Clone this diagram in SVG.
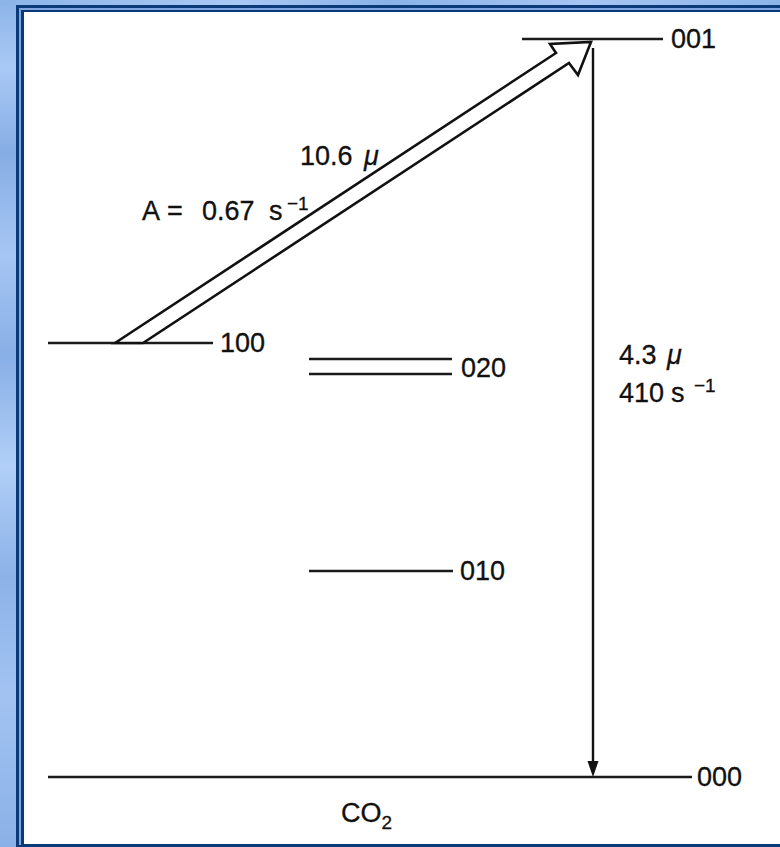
<svg xmlns="http://www.w3.org/2000/svg" width="780" height="847" viewBox="0 0 780 847">
  <defs>
    <linearGradient id="bgV" x1="0" y1="0" x2="0" y2="1">
      <stop offset="0" stop-color="#8db4e8"/>
      <stop offset="0.08" stop-color="#a9c9f5"/>
      <stop offset="0.18" stop-color="#86ade4"/>
      <stop offset="0.3" stop-color="#a6c6f4"/>
      <stop offset="0.42" stop-color="#88afe6"/>
      <stop offset="0.55" stop-color="#b1cff7"/>
      <stop offset="0.68" stop-color="#8cb2e8"/>
      <stop offset="0.82" stop-color="#a2c3f2"/>
      <stop offset="1" stop-color="#8ab1e7"/>
    </linearGradient>
    <linearGradient id="bgH" x1="0" y1="0" x2="1" y2="0">
      <stop offset="0" stop-color="#8db4e8"/>
      <stop offset="0.3" stop-color="#a9c9f5"/>
      <stop offset="0.5" stop-color="#8cb2e8"/>
      <stop offset="0.75" stop-color="#a6c6f4"/>
      <stop offset="1" stop-color="#8db4e8"/>
    </linearGradient>
    <style>
      .lvl { stroke: #1a1a1a; stroke-width: 2.4; fill: none; }
      .t { font-family: "Liberation Sans", Arial, sans-serif; font-size: 27px; fill: #111; stroke: #111; stroke-width: 0.3; }
      .sup { font-size: 19px; }
      .mu { font-style: italic; }
    </style>
  </defs>

  <!-- background frame -->
  <rect x="0" y="0" width="780" height="847" fill="url(#bgV)"/>
  <rect x="0" y="0" width="780" height="6" fill="url(#bgH)"/>
  <rect x="16" y="5" width="764" height="842" fill="#0b3a78"/>
  <rect x="19" y="8" width="761" height="839" fill="#7fa6de"/>
  <rect x="21" y="10" width="759" height="837" fill="#0b3a78"/>
  <rect x="24" y="12" width="756" height="832" fill="#ffffff"/>
  <rect x="16" y="845" width="764" height="2" fill="#0b3a78"/>

  <g id="level-001">
    <line class="lvl" x1="522" y1="39" x2="663" y2="39"/>
    <text class="t" x="671" y="48">001</text>
  </g>
  <g id="level-100">
    <line class="lvl" x1="48" y1="343" x2="213" y2="343"/>
    <text class="t" x="220" y="352">100</text>
  </g>
  <g id="level-020">
    <line class="lvl" x1="309" y1="359" x2="452" y2="359"/>
    <line class="lvl" x1="309" y1="374" x2="452" y2="374"/>
    <text class="t" x="461" y="377">020</text>
  </g>
  <g id="level-010">
    <line class="lvl" x1="309" y1="571" x2="453" y2="571"/>
    <text class="t" x="460" y="580">010</text>
  </g>
  <g id="level-000">
    <line class="lvl" x1="48" y1="777" x2="692" y2="777"/>
    <text class="t" x="697" y="786">000</text>
  </g>
  <g id="label-co2">
    <text class="t" x="341" y="822">CO<tspan class="sup" dy="7">2</tspan></text>
  </g>

  <g id="connectors">
    <polygon points="115,343 556,53 550,44 591,42 578,75 569,63 143,343" fill="#ffffff" stroke="#111" stroke-width="2.6" stroke-linejoin="miter"/>
    <line x1="593" y1="48" x2="593" y2="764" stroke="#111" stroke-width="2.4"/>
    <polygon points="587.5,761 598.5,761 593,777" fill="#111"/>
  </g>

  <g id="label-laser">
    <text class="t" x="300" y="165">10.6 <tspan class="mu" x="364">μ</tspan></text>
    <text class="t" x="142" y="220">A<tspan x="167">=</tspan><tspan x="202">0.67</tspan><tspan x="269">s</tspan><tspan class="sup" x="287" y="210">−1</tspan></text>
  </g>
  <g id="label-43">
    <text class="t" x="619" y="364">4.3 <tspan class="mu" x="667">μ</tspan></text>
    <text class="t" x="619" y="402">410<tspan x="671">s</tspan><tspan class="sup" x="694" y="392">−1</tspan></text>
  </g>
</svg>
